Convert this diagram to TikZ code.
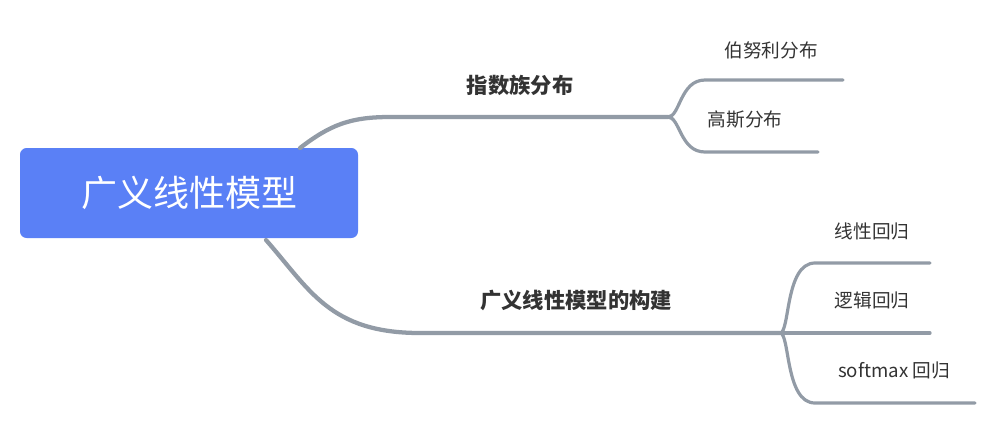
\documentclass[tikz,border=0pt]{standalone}
\usepackage{fontspec}
\setmainfont{Noto Sans CJK SC}
\definecolor{rootblue}{HTML}{5A80F6}
\definecolor{branchgray}{HTML}{929BA6}
\definecolor{textgray}{HTML}{333333}

\begin{document}
\begin{tikzpicture}[x=0.75pt,y=-0.75pt,
  branch/.style={draw=branchgray, line width=3.2pt, line cap=round},
  twig/.style={draw=branchgray, line width=2.4pt, line cap=round},
  mainlabel/.style={font=\fontsize{16}{18}\selectfont\bfseries, text=textgray},
  leaflabel/.style={font=\fontsize{14}{16}\selectfont, text=textgray}]
\useasboundingbox (0,0) rectangle (999,426);

% root
\node[fill=rootblue, rounded corners=5pt, minimum width=253.5pt, minimum height=67.5pt,
  text=white, font=\fontsize{27}{30}\selectfont] (root) at (189,193) {广义线性模型};

% first branch
\coordinate (a0) at (300,148);
\coordinate (a1) at (668,117);
\draw[branch] (a0) .. controls (330,125) and (350,117) .. (390,117) -- (a1);
\node[mainlabel] (exp) at (520,85) {指数族分布};

\coordinate (b1) at (843,80);
\coordinate (b2) at (818,152);
\draw[twig] (a1) .. controls (680,117) and (680,80) .. (705,80) -- (b1);
\draw[twig] (a1) .. controls (680,117) and (680,152) .. (705,152) -- (b2);
\node[leaflabel] (bern) at (771,50) {伯努利分布};
\node[leaflabel] (gauss) at (745,120) {高斯分布};

% second branch
\coordinate (c0) at (266,240);
\coordinate (c1) at (780,333);
\draw[branch] (c0) .. controls (310,290) and (330,333) .. (420,333) -- (c1);
\node[mainlabel] (build) at (576,300) {广义线性模型的构建};

\coordinate (d1) at (930,263);
\coordinate (d2) at (930,333);
\coordinate (d3) at (975,403);
\draw[twig] (c1) .. controls (790,333) and (785,263) .. (815,263) -- (d1);
\draw[twig] (c1) -- (d2);
\draw[twig] (c1) .. controls (790,333) and (785,403) .. (815,403) -- (d3);
\node[leaflabel] (lin) at (872,231) {线性回归};
\node[leaflabel] (logit) at (872,300) {逻辑回归};
\node[leaflabel] (soft) at (894,370) {softmax 回归};
\end{tikzpicture}
\end{document}
